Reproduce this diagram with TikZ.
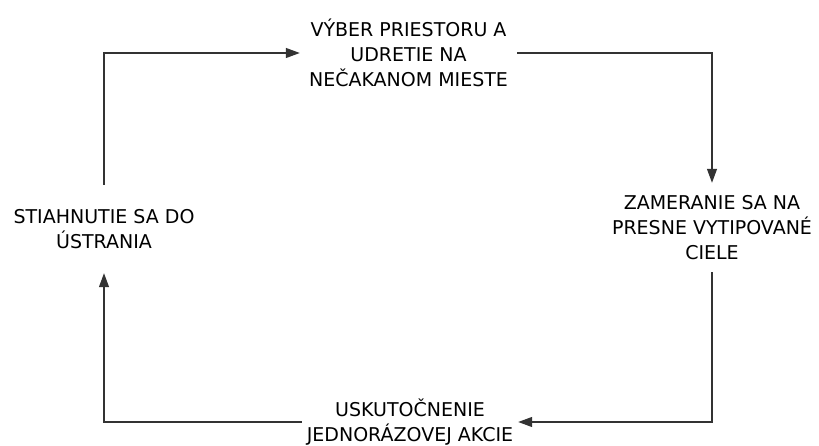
\documentclass[tikz,border=0pt]{standalone}
\usepackage{fontspec}
\setmainfont{DejaVu Sans}
\usetikzlibrary{arrows.meta}
\definecolor{linegray}{HTML}{333333}
\begin{document}
\begin{tikzpicture}[x=1pt,y=-1pt,
  stage/.style={align=center, inner sep=0pt, text=black,
    font=\fontsize{19}{25}\selectfont},
  flow/.style={draw=linegray, line width=1.2pt,
    -{Triangle[length=14pt,width=10pt]}}]
  \useasboundingbox (0,0) rectangle (819,446);

  % the four stages of the cycle
  \node[stage, minimum width=217pt] (t) at (408.5,53)
    {VÝBER PRIESTORU A\\UDRETIE NA\\NEČAKANOM MIESTE};
  \node[stage, minimum height=89pt] (r) at (712,227.5)
    {ZAMERANIE SA NA\\PRESNE VYTIPOVANÉ\\CIELE};
  \node[stage, minimum width=216pt] (b) at (410,422)
    {USKUTOČNENIE\\JEDNORÁZOVEJ AKCIE};
  \node[stage, minimum height=88pt] (l) at (104,229)
    {STIAHNUTIE SA DO\\ÚSTRANIA};

  % connectors running clockwise
  \draw[flow] (l.north) |- (t.west);
  \draw[flow] (t.east) -| (r.north);
  \draw[flow] (r.south) |- (b.east);
  \draw[flow] (b.west) -| (l.south);
\end{tikzpicture}
\end{document}
